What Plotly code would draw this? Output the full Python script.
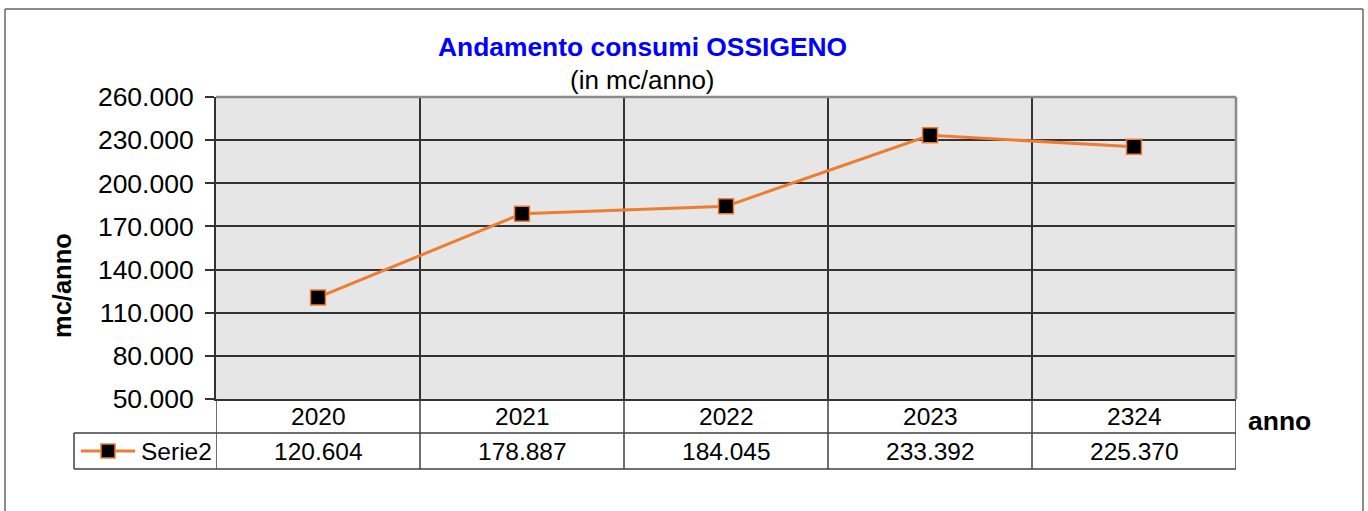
import plotly.graph_objects as go

# data
anni = ["2020", "2021", "2022", "2023", "2324"]
consumi = [120604, 178887, 184045, 233392, 225370]
serie_nome = "Serie2"
y_ticks = [50000, 80000, 110000, 140000, 170000, 200000, 230000, 260000]

W, H = 1368, 511
L, R, T, B = 216, 1236, 97, 399     # plot area in px
pw, ph = R - L, B - T


def px_x(x):
    return (x - L) / pw


def px_y(y):
    return (B - y) / ph


def fmt(v):
    return f"{v:,}".replace(",", ".")


orange = "#ED7D31"
dark = "#333333"
n = len(anni)
idx = list(range(n))
bounds = [i - 0.5 for i in range(n + 1)]

fig = go.Figure()
fig.add_trace(go.Scatter(
    x=idx, y=consumi, mode="lines+markers", name=serie_nome,
    line=dict(color=orange, width=3),
    marker=dict(symbol="square", size=15, color="black",
                line=dict(color=orange, width=1.5)),
    hoverinfo="y", showlegend=False,
))

shapes = []
# outer chart border (open at the bottom, it runs off the picture)
border = dict(color="#666666", width=1.5)
for x0, y0, x1, y1 in [(5, 9, 1363, 9), (5, 9, 5, 520), (1363, 9, 1363, 520)]:
    shapes.append(dict(type="line", xref="paper", yref="paper",
                       x0=px_x(x0), x1=px_x(x1), y0=px_y(y0), y1=px_y(y1), line=border))
# lighter top/right plot border
shapes.append(dict(type="line", xref="paper", yref="paper", x0=0, x1=1, y0=1, y1=1,
                   line=dict(color="#8a8a8a", width=2.5)))
shapes.append(dict(type="line", xref="paper", yref="paper", x0=1, x1=1, y0=0, y1=1,
                   line=dict(color="#8a8a8a", width=2.5)))

# data table
row1 = px_y(433)
row2 = px_y(469)
tcol = "#404040"
for b in bounds:
    shapes.append(dict(type="line", xref="x", yref="paper", x0=b, x1=b, y0=0, y1=row2,
                       line=dict(color=tcol, width=1.5)))
for yy in (row1, row2):
    shapes.append(dict(type="line", xref="paper", yref="paper", x0=px_x(74), x1=1,
                       y0=yy, y1=yy, line=dict(color=tcol, width=1.5)))
shapes.append(dict(type="line", xref="paper", yref="paper", x0=px_x(74), x1=px_x(74),
                   y0=row1, y1=row2, line=dict(color=tcol, width=1.5)))
# legend key
ky = px_y(451)
shapes.append(dict(type="line", xref="paper", yref="paper", x0=px_x(81), x1=px_x(135),
                   y0=ky, y1=ky, line=dict(color=orange, width=3)))
shapes.append(dict(type="rect", xref="paper", yref="paper",
                   x0=px_x(101), x1=px_x(115), y0=px_y(458), y1=px_y(444),
                   fillcolor="black", line=dict(color=orange, width=1.5)))

font_main = "Liberation Sans, Arial, sans-serif"
tf = 24.5
annotations = []
for i, (a, v) in enumerate(zip(anni, consumi)):
    annotations.append(dict(x=i, y=px_y(416), xref="x", yref="paper", text=a,
                            xanchor="center", yanchor="middle",
                            showarrow=False, font=dict(size=tf, color="black")))
    annotations.append(dict(x=i, y=px_y(451), xref="x", yref="paper", text=fmt(v),
                            xanchor="center", yanchor="middle",
                            showarrow=False, font=dict(size=tf, color="black")))
annotations += [
    dict(x=px_x(139), y=px_y(451), xref="paper", yref="paper", text=serie_nome,
         xanchor="left", yanchor="middle", showarrow=False,
         font=dict(size=tf, color="black")),
    dict(x=px_x(1246), y=px_y(421), xref="paper", yref="paper", text="<b>anno</b>",
         xanchor="left", yanchor="middle", showarrow=False,
         font=dict(size=26.5, color="black")),
    dict(x=px_x(62), y=px_y(286), xref="paper", yref="paper", text="<b>mc/anno</b>",
         textangle=-90, xanchor="center", yanchor="middle", showarrow=False,
         font=dict(size=25.5, color="black")),
    dict(x=px_x(642), y=px_y(47), xref="paper", yref="paper",
         text="<b>Andamento consumi OSSIGENO</b>", xanchor="center", yanchor="middle",
         showarrow=False, font=dict(size=26.4, color="#0000FF")),
    dict(x=px_x(642), y=px_y(80), xref="paper", yref="paper", text="(in mc/anno)",
         xanchor="center", yanchor="middle", showarrow=False,
         font=dict(size=26, color="black")),
]

fig.update_layout(
    width=W, height=H,
    margin=dict(l=L, r=W - R, t=T, b=H - B),
    paper_bgcolor="white", plot_bgcolor="#E6E6E6",
    font=dict(family=font_main, color="black"),
    separators=",.",
    shapes=shapes, annotations=annotations,
)
fig.update_xaxes(range=[bounds[0], bounds[-1]], tickvals=bounds, showticklabels=False,
                 showgrid=True, gridcolor=dark, gridwidth=1.5, ticks="",
                 showline=True, linecolor=dark, linewidth=2, zeroline=False)
fig.update_yaxes(range=[y_ticks[0], y_ticks[-1]], tickvals=y_ticks, tickformat=",",
                 showgrid=True, gridcolor=dark, gridwidth=1.5,
                 ticks="outside", ticklen=9, tickcolor=dark, tickwidth=1.5,
                 ticklabelstandoff=6, tickfont=dict(size=26.5),
                 showline=True, linecolor=dark, linewidth=2, zeroline=False)

# drop the default page margin so the figure fills the window exactly
fig.write_html("out.html", config={"displayModeBar": False},
               post_script="document.body.style.margin='0';document.body.style.overflow='hidden';")
